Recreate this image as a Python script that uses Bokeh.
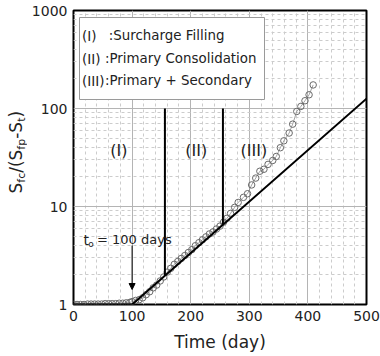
import numpy as np
from bokeh.plotting import figure
from bokeh.layouts import row
from bokeh.core.properties import value
from bokeh.models import (FixedTicker, NumeralTickFormatter, BoxAnnotation, Label,
                          Arrow, NormalHead, Range1d, ColumnDataSource)
from bokeh.embed import file_html
from bokeh.resources import INLINE

# ---------------- data ----------------
t_obs = [0, 6, 12, 18, 24, 30, 36, 42, 48, 54, 60, 66, 72, 78, 84, 90, 96,
         100, 106, 112, 118, 124, 130, 136, 142, 148, 154, 160, 166, 172, 178,
         184, 190, 196, 202, 208, 214, 220, 226, 232, 238, 244, 250, 256, 262, 268,
         275, 281, 290, 297, 304, 311, 318, 325, 332, 340, 346, 353, 359, 368,
         374, 381, 388, 395, 402, 409]
s_obs = [1.00, 1.00, 1.00, 1.00, 1.01, 1.01, 1.01, 1.01, 1.01, 1.02, 1.02, 1.02,
         1.02, 1.03, 1.03, 1.04, 1.05,
         1.07, 1.10, 1.12, 1.17, 1.26, 1.35, 1.48, 1.58, 1.74, 1.91, 2.14, 2.34,
         2.57, 2.75, 2.95, 3.16, 3.39, 3.63, 3.98, 4.27, 4.57, 4.90, 5.25, 5.50,
         5.89, 6.31, 6.92, 7.59, 8.51,
         9.8, 11.0, 12.4, 13.5, 16.6, 19.5, 22.9, 24.0, 26.9, 29.5, 32.4, 39.8,
         46.8, 56.2, 69.2, 93.3, 105.0, 120.0, 138.0, 174.0]

fit_t = [0, 100, 500]
fit_s = [1.0, 1.0, 126.0]

phase_t = [156, 255]
phase_bottom = [1.97, 6.51]
phase_top = [100, 100]

phase_labels = ["(I)", "(II)", "(III)"]
legend_keys = ["(I)", "(II)", "(III)"]
legend_texts = [":Surcharge Filling", ":Primary Consolidation", ":Primary + Secondary"]

x_ticks = [0, 100, 200, 300, 400, 500]
x_minor = [v for v in range(0, 501, 20) if v % 100 != 0]
y_ticks = [1, 10, 100, 1000]
y_minor = [m * d for d in (1, 10, 100) for m in range(2, 10)]

t0_value = 100

# ---------------- geometry helpers (page px -> data) ----------------
W, H = 380, 356
TW = 27                      # width of the y-title column
L, R, T, B = 73, 366, 10, 304


def X(sx):
    return (sx - L) * 500.0 / (R - L)


def Y(sy):
    return 10 ** ((B - sy) * 3.0 / (B - T))


FONT = "DejaVu Sans"
TXT = "#222222"

yr = Range1d(1, 1000)
p = figure(width=W - TW, height=H, x_range=Range1d(0, 500), y_range=yr,
           y_axis_type="log", output_backend="svg", toolbar_location=None,
           min_border_left=L - TW, min_border_right=W - R, min_border_top=T,
           min_border_bottom=H - B)
p.background_fill_color = "white"
p.border_fill_color = "white"
p.outline_line_color = "black"
p.outline_line_width = 2

# axes
p.xaxis.ticker = FixedTicker(ticks=x_ticks, minor_ticks=x_minor)
p.yaxis.ticker = FixedTicker(ticks=y_ticks, minor_ticks=y_minor)
p.yaxis.formatter = NumeralTickFormatter(format="0")
for ax in (p.xaxis, p.yaxis):
    ax.axis_line_color = None
    ax.major_tick_line_color = None
    ax.minor_tick_line_color = None
    ax.major_tick_out = 0
    ax.major_tick_in = 0
    ax.minor_tick_out = 0
    ax.minor_tick_in = 0
    ax.major_label_text_font = FONT
    ax.major_label_text_font_size = "14px"
    ax.major_label_text_color = TXT
p.xaxis.major_label_standoff = 6
p.yaxis.major_label_standoff = 6
p.xaxis.axis_label = "Time (day)"
p.xaxis.axis_label_text_font = FONT
p.xaxis.axis_label_text_font_size = "17px"
p.xaxis.axis_label_text_font_style = "normal"
p.xaxis.axis_label_text_color = TXT
p.xaxis.axis_label_standoff = 8

# grids
for g in (p.xgrid, p.ygrid):
    g.grid_line_color = "#b4b4b4"
    g.grid_line_width = 1
    g.minor_grid_line_color = "#cccccc"
    g.minor_grid_line_width = 1
    g.minor_grid_line_dash = "3 3"

# observed data
src = ColumnDataSource(dict(t=t_obs, s=s_obs))
p.line("t", "s", source=src, line_color="#8c8c8c", line_width=0.8)
p.scatter("t", "s", source=src, size=6.5, marker="circle", fill_color=None,
          line_color="#6a6a6a", line_width=1)

# fitted line
p.line(fit_t, fit_s, line_color="black", line_width=2)

# phase boundaries
p.segment(x0=phase_t, y0=phase_bottom, x1=phase_t, y1=phase_top,
          line_color="black", line_width=2)

# phase labels
label_sx = [118.3, 195.7, 253.3]
for txt, sx in zip(phase_labels, label_sx):
    p.add_layout(Label(x=X(sx), y=Y(150), text=txt, text_align="center",
                       text_baseline="middle", text_font=FONT,
                       text_font_size="16px", text_color=TXT))

# legend box
p.add_layout(BoxAnnotation(left=X(79), right=X(264), top=Y(17), bottom=Y(99),
                           fill_color="white", fill_alpha=1.0,
                           line_color="#9a9a9a", line_width=1, line_alpha=1.0))
row_sy = [35, 58.3, 80]
colon_sx = [108.3, 104.5, 104.5]
for key, txt, sy, csx in zip(legend_keys, legend_texts, row_sy, colon_sx):
    p.add_layout(Label(x=X(81.5), y=Y(sy), text=key, text_align="left",
                       text_baseline="middle", text_font=FONT,
                       text_font_size="13.5px", text_color=TXT))
    p.add_layout(Label(x=X(csx), y=Y(sy), text=txt, text_align="left",
                       text_baseline="middle", text_font=FONT,
                       text_font_size="13.4px", text_color=TXT))

# t_o annotation
p.add_layout(Label(x=X(83), y=Y(239), text="t", text_align="left",
                   text_baseline="alphabetic", text_font=FONT,
                   text_font_size="14px", text_color=TXT))
p.add_layout(Label(x=X(87.8), y=Y(243), text="o", text_align="left",
                   text_baseline="alphabetic", text_font=FONT,
                   text_font_size="9px", text_color=TXT))
p.add_layout(Label(x=X(96.5), y=Y(239), text="= 100 days", text_align="left",
                   text_baseline="alphabetic", text_font=FONT,
                   text_font_size="13px", text_color=TXT))
p.add_layout(Arrow(end=NormalHead(size=6, fill_color="black", line_color="black",
                                  line_width=1),
                   x_start=t0_value, y_start=Y(245), x_end=t0_value, y_end=Y(289),
                   line_color="black", line_width=1))

# ---------------- y-axis title column (rotated, with subscripts) ----------------
tf = figure(width=TW, height=H, x_range=Range1d(0, TW), y_range=yr,
            y_axis_type="log", output_backend="svg", toolbar_location=None,
            x_axis_location=None, y_axis_location=None,
            min_border_left=0, min_border_right=0, min_border_top=T,
            min_border_bottom=H - B)
tf.outline_line_color = None
tf.grid.visible = False
tf.background_fill_color = "white"
tf.border_fill_color = "white"

pieces = [("S", False, 0.635), ("fc", True, 0.352 + 0.550),
          ("/(S", False, 0.337 + 0.390 + 0.635), ("fp", True, 0.352 + 0.635),
          ("-S", False, 0.361 + 0.635), ("t", True, 0.392), (")", False, 0.390)]
MAIN, SUB = 17.0, 11.0
sy = 193.0
for txt, is_sub, adv in pieces:
    size = SUB if is_sub else MAIN
    cx = 20.5 if is_sub else 15.5
    tf.text(x=[cx], y=[Y(sy)], text=[txt], angle=np.pi / 2,
            text_align="left", text_baseline="middle",
            text_font=value(FONT), text_font_size=f"{size}px", text_color=TXT)
    sy -= adv * size

layout = row(tf, p)
open("out.html", "w").write(file_html(layout, INLINE))
